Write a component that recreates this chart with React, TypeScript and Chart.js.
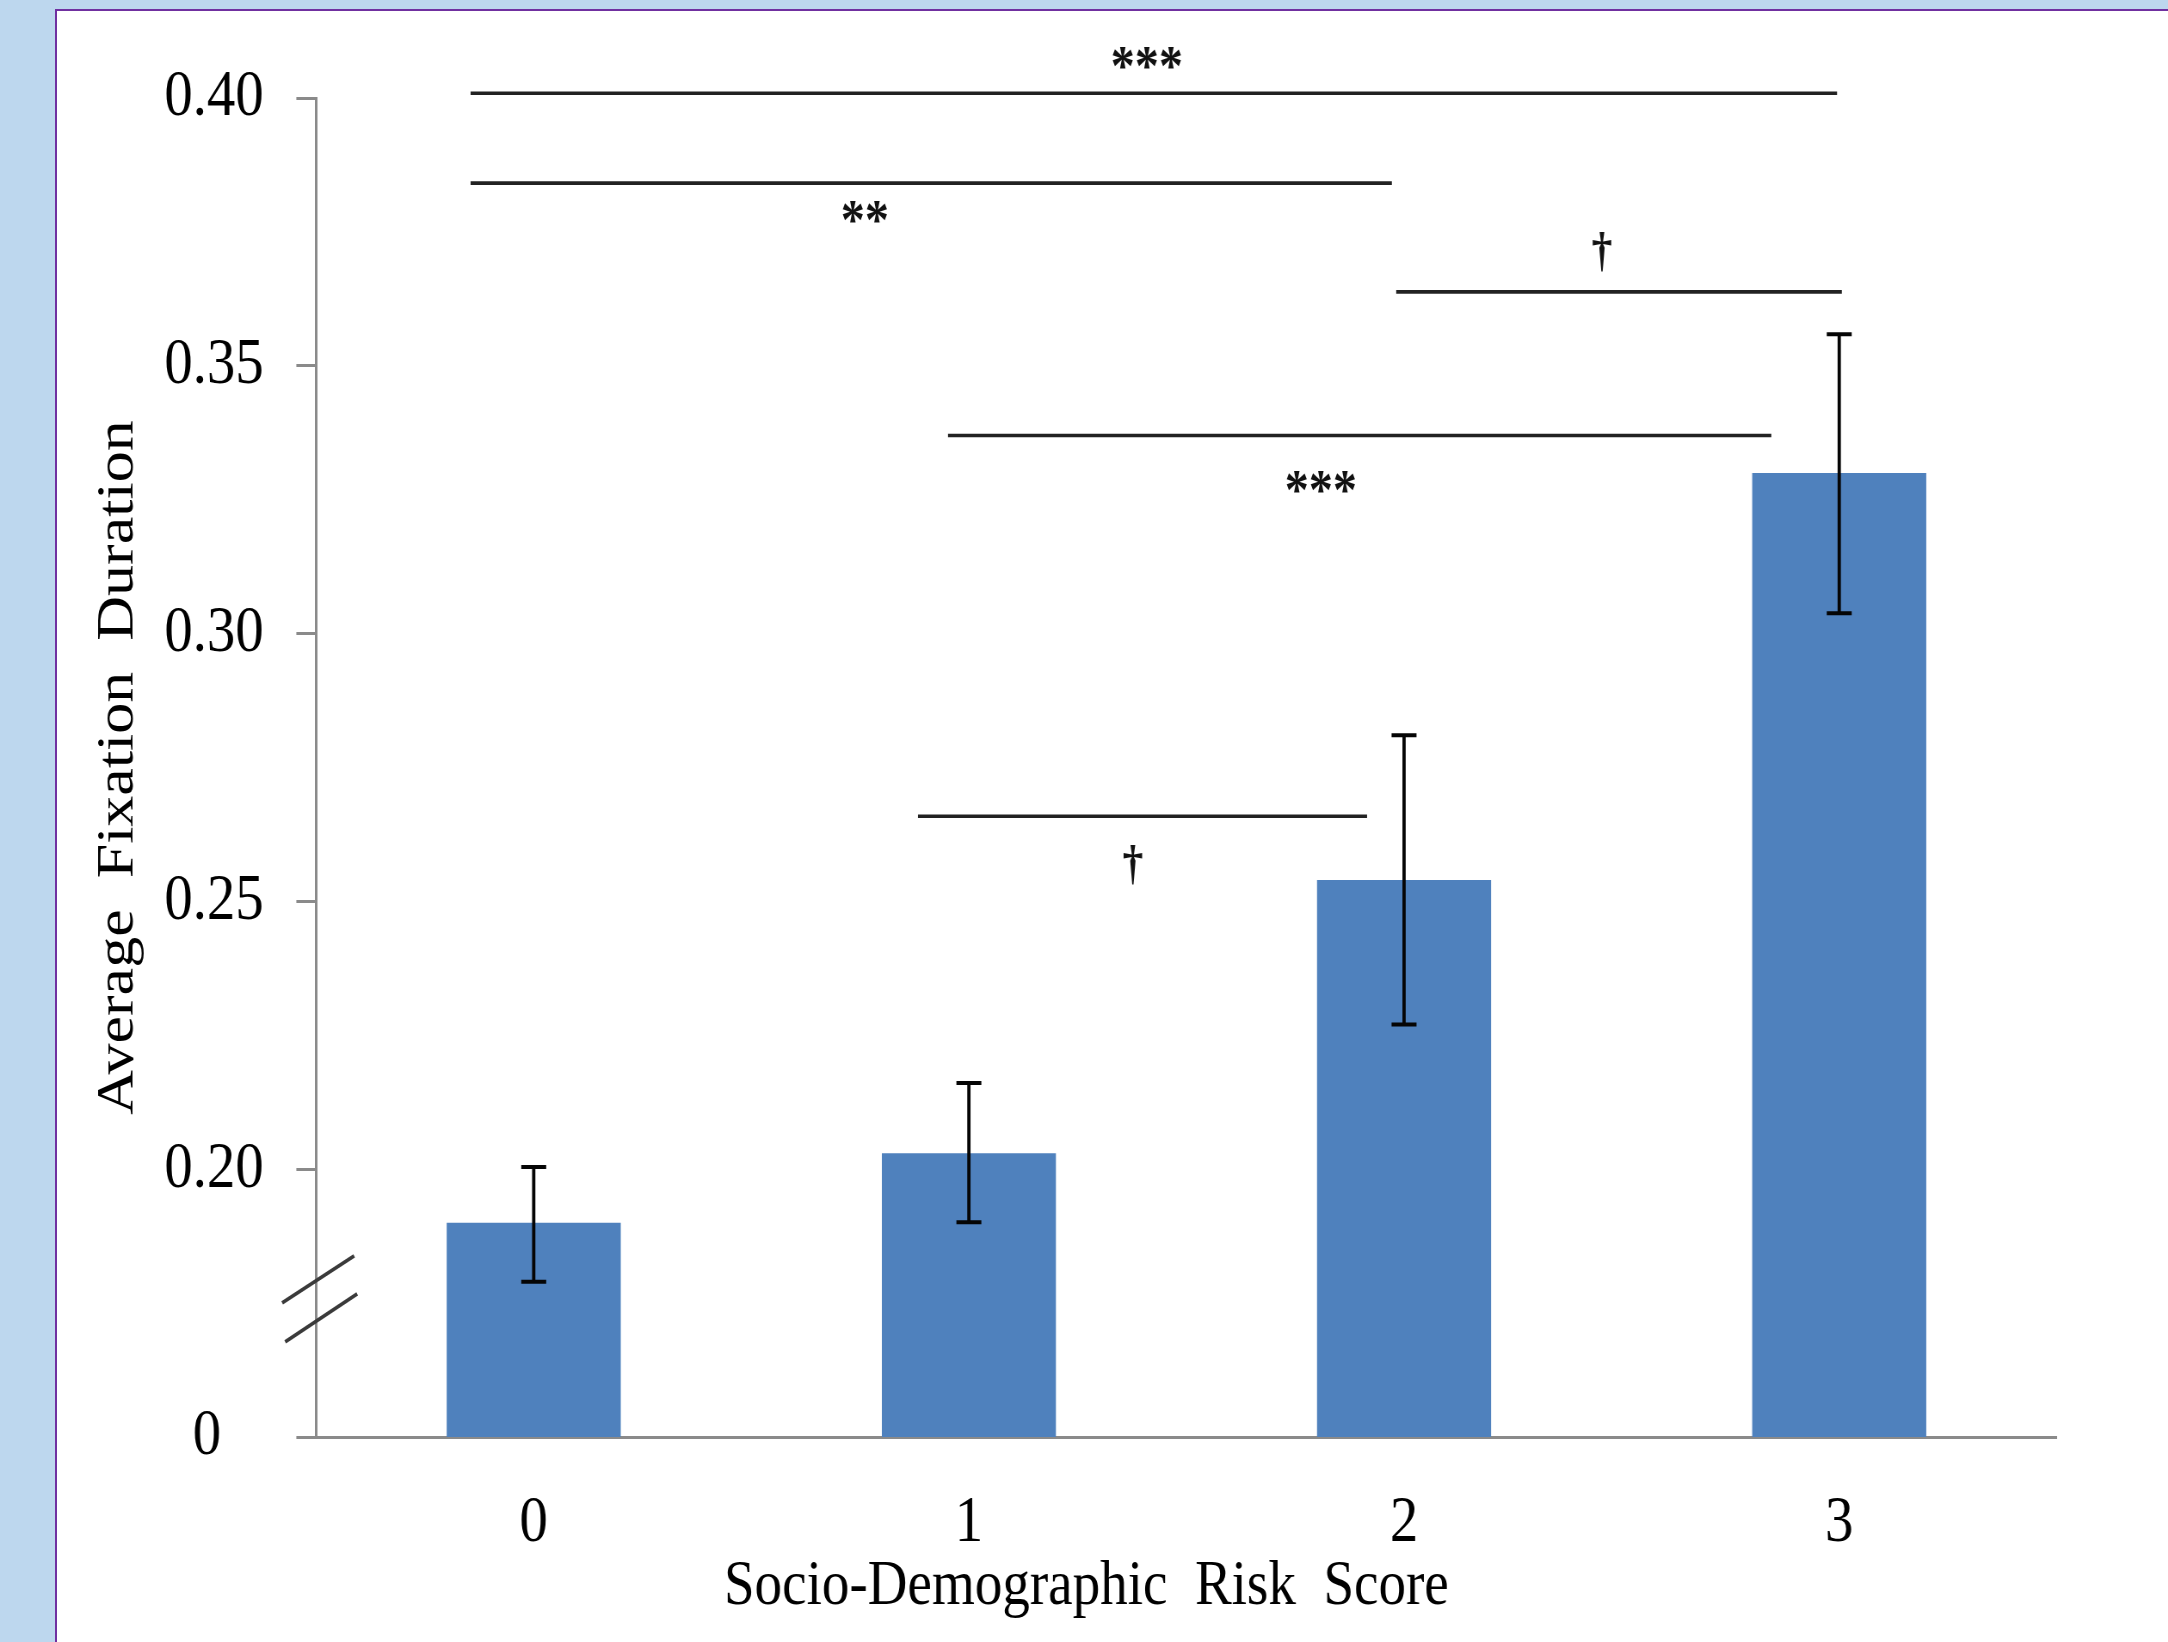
import { useEffect, useRef } from 'react';
import { Chart, registerables } from 'chart.js';

Chart.register(...registerables);

// ---- data ----
const categories = ['0', '1', '2', '3'];
const meanValues = [0.19, 0.203, 0.254, 0.33];
const errorUpper = [0.2004, 0.2161, 0.281, 0.3559];
const errorLower = [0.179, 0.1901, 0.227, 0.3038];

const yTickValues = [0.15, 0.2, 0.25, 0.3, 0.35, 0.4];
const yTickLabels = ['0   ', '0.20', '0.25', '0.30', '0.35', '0.40'];

// significance brackets (x in category index units, y in data units)
const bracketFrom = [-0.145, -0.145, 1.982, 0.952, 0.883];
const bracketTo = [2.995, 1.972, 3.006, 2.844, 1.915];
const bracketLevel = [0.4009, 0.3841, 0.3638, 0.337, 0.2659];
const bracketLabels = ['***', '**', '†', '***', '†'];
const labelAt = [1.409, 0.761, 2.455, 1.809, 1.377];
const labelLevel = [0.4073, 0.3785, 0.3711, 0.3281, 0.2566];

const axisBreakLevel = 0.1758;
const xTitle = 'Socio-Demographic  Risk  Score';
const xTitleAt = 1.27;
const yTitle = 'Average  Fixation  Duration';

// ---- layout / style ----
const S = 0.86; // horizontal compression of the picture
const W = 2168;
const H = 1642;
const CW = W / S;
const FONT = "'Liberation Serif', 'Times New Roman', serif";
const AXIS = '#8a8a8a';

const annotations = {
  id: 'annotations',
  afterDatasetsDraw(chart: any) {
    const { ctx } = chart;
    const y = chart.scales.y;
    const meta = chart.getDatasetMeta(0);
    ctx.save();
    ctx.strokeStyle = '#050505';
    meta.data.forEach((bar: any, i: number) => {
      const cx = bar.x;
      const yt = y.getPixelForValue(errorUpper[i]);
      const yb = y.getPixelForValue(errorLower[i]);
      ctx.lineWidth = 3.8;
      ctx.beginPath();
      ctx.moveTo(cx, yt);
      ctx.lineTo(cx, yb);
      ctx.stroke();
      ctx.lineWidth = 4;
      ctx.beginPath();
      ctx.moveTo(cx - 14.5, yt);
      ctx.lineTo(cx + 14.5, yt);
      ctx.moveTo(cx - 14.5, yb);
      ctx.lineTo(cx + 14.5, yb);
      ctx.stroke();
    });
    ctx.restore();
  },
  afterDraw(chart: any) {
    const { ctx, chartArea } = chart;
    const x = chart.scales.x;
    const y = chart.scales.y;
    ctx.save();
    // brackets
    ctx.strokeStyle = '#222222';
    ctx.lineWidth = 3.6;
    for (let i = 0; i < bracketFrom.length; i++) {
      const py = y.getPixelForValue(bracketLevel[i]);
      ctx.beginPath();
      ctx.moveTo(x.getPixelForValue(bracketFrom[i]), py);
      ctx.lineTo(x.getPixelForValue(bracketTo[i]), py);
      ctx.stroke();
    }
    // labels
    ctx.fillStyle = '#111';
    ctx.textAlign = 'center';
    ctx.textBaseline = 'alphabetic';
    for (let i = 0; i < bracketLabels.length; i++) {
      const lx = x.getPixelForValue(labelAt[i]);
      const ly = y.getPixelForValue(labelLevel[i]);
      const isDagger = bracketLabels[i] === '†';
      if (isDagger) {
        ctx.font = `bold 48px ${FONT}`;
        ctx.fillText(bracketLabels[i], lx, ly + 13);
      } else {
        ctx.font = `bold 56px ${FONT}`;
        ctx.fillText(bracketLabels[i], lx, ly + 26);
      }
    }
    // axis break marks
    const ax = chartArea.left;
    const yc = y.getPixelForValue(axisBreakLevel);
    ctx.strokeStyle = '#3a3a3a';
    ctx.lineWidth = 3.8;
    ctx.beginPath();
    ctx.moveTo(ax - 39.5, yc + 4);
    ctx.lineTo(ax + 44.2, yc - 43);
    ctx.moveTo(ax - 36, yc + 43);
    ctx.lineTo(ax + 47.7, yc - 5);
    ctx.stroke();
    // x axis title
    ctx.fillStyle = '#000';
    ctx.font = `64px ${FONT}`;
    ctx.textAlign = 'center';
    ctx.textBaseline = 'alphabetic';
    ctx.fillText(xTitle, x.getPixelForValue(xTitleAt), 1604);
    ctx.restore();
  },
};

export default function App() {
  const ref = useRef<HTMLCanvasElement>(null);

  useEffect(() => {
    const canvas = ref.current;
    if (!canvas) return;
    const chart = new Chart(canvas, {
      type: 'bar',
      data: {
        labels: categories,
        datasets: [
          {
            data: meanValues,
            backgroundColor: '#4F81BD',
            borderWidth: 0,
            barPercentage: 0.4,
            categoryPercentage: 1.0,
          },
        ],
      },
      options: {
        animation: false,
        responsive: true,
        maintainAspectRatio: false,
        layout: { padding: { left: 0, right: CW - 2056 / S, top: 98, bottom: 0 } },
        plugins: { legend: { display: false }, tooltip: { enabled: false } },
        scales: {
          x: {
            type: 'category',
            offset: true,
            grid: { display: false, drawTicks: false },
            border: { display: true, color: AXIS, width: 3 },
            ticks: { font: { family: FONT, size: 66 }, color: '#000', padding: 47 },
            afterFit(s: any) {
              s.height = H - 1437;
            },
          },
          y: {
            type: 'linear',
            min: 0.15,
            max: 0.4,
            afterBuildTicks(s: any) {
              s.ticks = yTickValues.map((v) => ({ value: v }));
            },
            ticks: {
              callback: (_v: any, i: number) => yTickLabels[i],
              font: { family: FONT, size: 66 },
              color: '#000',
              padding: 38,
              autoSkip: false,
            },
            grid: { drawOnChartArea: false, drawTicks: true, tickLength: 23, color: AXIS, lineWidth: 3 },
            border: { display: true, color: AXIS, width: 3 },
            title: {
              display: true,
              text: yTitle,
              font: { family: FONT, size: 62 },
              color: '#000',
              padding: { top: 101, bottom: 0 },
            },
            afterFit(s: any) {
              s.width = 316 / S;
            },
          },
        },
      },
      plugins: [annotations],
    } as any);
    return () => chart.destroy();
  }, []);

  return (
    <div
      style={{
        position: 'fixed',
        left: 0,
        top: 0,
        width: W,
        height: H,
        overflow: 'hidden',
        background: '#BDD7EE',
      }}
    >
      <div
        style={{
          position: 'absolute',
          left: 55,
          top: 9,
          width: 2300,
          height: 1800,
          background: '#ffffff',
          border: '2px solid #7030A0',
          boxSizing: 'border-box',
        }}
      />
      <div
        style={{
          position: 'absolute',
          left: 0,
          top: 0,
          width: CW,
          height: H,
          transform: `scaleX(${S})`,
          transformOrigin: '0 0',
        }}
      >
        <canvas ref={ref} />
      </div>
    </div>
  );
}
